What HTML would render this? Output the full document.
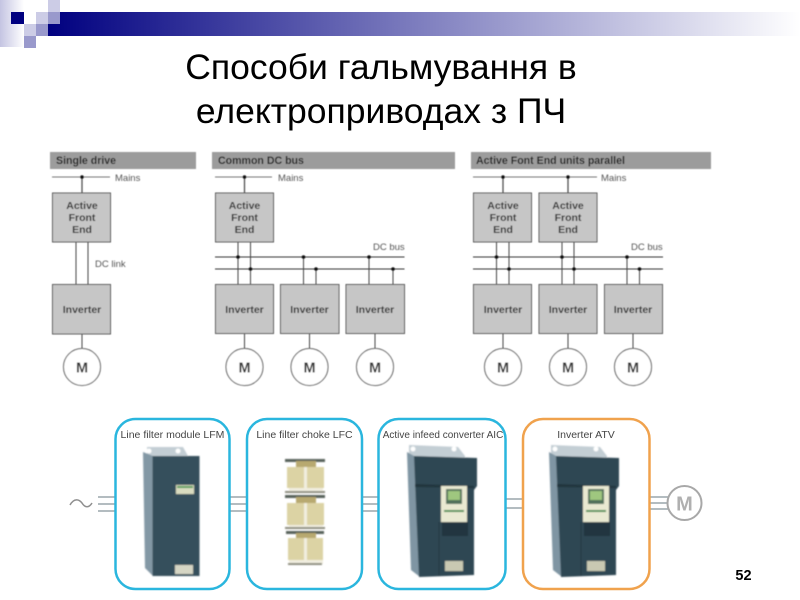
<!DOCTYPE html>
<html><head><meta charset="utf-8"><style>
html,body{margin:0;padding:0;background:#fff;width:800px;height:600px;overflow:hidden}
svg{display:block}
text{font-family:"Liberation Sans",sans-serif}
</style></head><body>
<svg width="800" height="600" viewBox="0 0 800 600">
<defs>
<linearGradient id="bar" x1="0" x2="1" y1="0" y2="0"><stop offset="0" stop-color="#000080"/><stop offset="1" stop-color="#fff"/></linearGradient>
<linearGradient id="left" x1="0" x2="1" y1="0" y2="0"><stop offset="0" stop-color="#c4c4e2"/><stop offset="1" stop-color="#fff"/></linearGradient>
<filter id="b1" x="-5%" y="-5%" width="110%" height="110%"><feGaussianBlur stdDeviation="0.55"/></filter>
<filter id="b2" x="-5%" y="-5%" width="110%" height="110%"><feGaussianBlur stdDeviation="0.7"/></filter>
<filter id="b0" x="-5%" y="-5%" width="110%" height="110%"><feGaussianBlur stdDeviation="0.35"/></filter>
<g id="drive">
<polygon points="409,445 458,447 465,456 465,470 409,470" fill="#c3ced4"/>
<circle cx="413" cy="449" r="2.500" fill="#fff"/><circle cx="454" cy="449" r="2.500" fill="#fff"/>
<polygon points="407,452 416,457 420,577 411,570" fill="#7f95a3"/>
<polygon points="414,456 477,458 477,486 474,490 474,575 419,577" fill="#2e4753"/>
<polygon points="415,484 474,486 474,488 415,487" fill="#21343c"/>
<rect x="441" y="486" width="26" height="36" fill="#e9e9d2"/>
<rect x="446" y="489" width="16" height="15" fill="#4f6f5a"/>
<rect x="448" y="491" width="12" height="9" fill="#9fc77f"/>
<rect x="444" y="510" width="20" height="2" fill="#3f8a4a"/>
<rect x="442" y="522" width="26" height="14" fill="#22363f"/>
<line x1="439" y1="522" x2="439" y2="576" stroke="#22363f" stroke-width="1"/>
<rect x="445" y="561" width="18" height="10" fill="#c9c9b2"/>
</g>
</defs>

<!-- template -->
<rect x="0" y="0" width="24" height="47" fill="url(#left)"/>
<rect x="48" y="12" width="752" height="24" fill="url(#bar)"/>
<rect x="11" y="12" width="13" height="12" fill="#000080"/>
<rect x="48" y="0" width="12" height="12" fill="#ccccE6"/>
<rect x="36" y="12" width="12" height="12" fill="#ccccE6"/>
<rect x="48" y="12" width="12" height="12" fill="#9999cc"/>
<rect x="24" y="24" width="12" height="12" fill="#ccccE6"/>
<rect x="36" y="24" width="12" height="12" fill="#9999cc"/>
<rect x="24" y="36" width="12" height="12" fill="#9999cc"/>

<text x="381" y="79" font-size="35.500" text-anchor="middle" fill="#000">Способи гальмування в</text>
<text x="381" y="123" font-size="35.500" text-anchor="middle" fill="#000">електроприводах з ПЧ</text>

<g filter="url(#b1)">
<!-- headers -->
<rect x="50" y="152" width="146" height="17" fill="#9c9c9c"/>
<rect x="212" y="152" width="243" height="17" fill="#9c9c9c"/>
<rect x="471" y="152" width="240" height="17" fill="#9c9c9c"/>
<g font-size="10.600" font-weight="bold" fill="#222">
<text x="56" y="164">Single drive</text>
<text x="218" y="164">Common DC bus</text>
<text x="476" y="164">Active Font End units parallel</text>
</g>

<!-- wires -->
<g stroke="#444" stroke-width="1" fill="none">
<path d="M52 177H110M215 177H272M473 177H597" stroke="#777"/>
<path d="M82 177V193M244.500 177V193M503 177V193M568 177V193" stroke-width="1.200"/>
<path d="M76 242V284M88 242V284"/>
<path d="M82 334V349M244.500 334V349M309.500 334V349M375 334V349M503 334V349M568 334V349M633 334V349"/>
<path d="M215 257H404.500M215 269H404.500M473 257H663M473 269H663" stroke="#333"/>
<path d="M238 242V284M250.500 242V284M303.500 257V284M316 269V284M369 257V284M393 269V284"/>
<path d="M496.500 242V284M509 242V284M562 242V284M574 242V284M627 257V284M639.500 269V284"/>
</g>
<g fill="#111">
<circle cx="82" cy="177" r="1.800"/><circle cx="244.500" cy="177" r="1.800"/><circle cx="503" cy="177" r="1.800"/><circle cx="568" cy="177" r="1.800"/>
<circle cx="238" cy="257" r="1.800"/><circle cx="250.500" cy="269" r="1.800"/><circle cx="303.500" cy="257" r="1.800"/><circle cx="316" cy="269" r="1.800"/><circle cx="369" cy="257" r="1.800"/><circle cx="393" cy="269" r="1.800"/>
<circle cx="496.500" cy="257" r="1.800"/><circle cx="509" cy="269" r="1.800"/><circle cx="562" cy="257" r="1.800"/><circle cx="574" cy="269" r="1.800"/><circle cx="627" cy="257" r="1.800"/><circle cx="639.500" cy="269" r="1.800"/>
</g>

<!-- boxes -->
<g fill="#c6c6c6" stroke="#555" stroke-width="1">
<rect x="52.500" y="193" width="58" height="49"/>
<rect x="215.500" y="193" width="58" height="49"/>
<rect x="473.500" y="193" width="58" height="49"/>
<rect x="539" y="193" width="58" height="49"/>
<rect x="52.500" y="284.500" width="58" height="49.500"/>
<rect x="215.500" y="284.500" width="58" height="49"/>
<rect x="280.500" y="284.500" width="58.500" height="49"/>
<rect x="346" y="284.500" width="58.500" height="49"/>
<rect x="473.500" y="284.500" width="58" height="49"/>
<rect x="539" y="284.500" width="58" height="49"/>
<rect x="604.500" y="284.500" width="58" height="49"/>
</g>
<g font-size="10.500" font-weight="bold" fill="#333" text-anchor="middle">
<text x="82" y="209">Active</text><text x="82" y="221">Front</text><text x="82" y="233">End</text>
<text x="244.500" y="209">Active</text><text x="244.500" y="221">Front</text><text x="244.500" y="233">End</text>
<text x="503" y="209">Active</text><text x="503" y="221">Front</text><text x="503" y="233">End</text>
<text x="568" y="209">Active</text><text x="568" y="221">Front</text><text x="568" y="233">End</text>
<text x="82" y="313">Inverter</text><text x="244.500" y="313">Inverter</text><text x="309.500" y="313">Inverter</text><text x="375" y="313">Inverter</text>
<text x="503" y="313">Inverter</text><text x="568" y="313">Inverter</text><text x="633" y="313">Inverter</text>
</g>
<g font-size="9.500" fill="#555">
<text x="115" y="181">Mains</text><text x="278" y="181">Mains</text><text x="601" y="181">Mains</text>
<text x="95" y="267">DC link</text>
<text x="373" y="250">DC bus</text><text x="631" y="250">DC bus</text>
</g>
<g fill="#fff" stroke="#555" stroke-width="1">
<circle cx="82" cy="367" r="18.500"/><circle cx="244.500" cy="367" r="18.500"/><circle cx="309.500" cy="367" r="18.500"/><circle cx="375" cy="367" r="18.500"/>
<circle cx="503" cy="367" r="18.500"/><circle cx="568" cy="367" r="18.500"/><circle cx="633" cy="367" r="18.500"/>
</g>
<g font-size="14.500" font-weight="bold" fill="#333" text-anchor="middle">
<text x="82" y="372.500">M</text><text x="244.500" y="372.500">M</text><text x="309.500" y="372.500">M</text><text x="375" y="372.500">M</text>
<text x="503" y="372.500">M</text><text x="568" y="372.500">M</text><text x="633" y="372.500">M</text>
</g>
</g>

<!-- bottom -->
<g filter="url(#b0)">
<g stroke="#9aa6ab" stroke-width="1.500" fill="none">
<path d="M98 497H115M98 504H115M98 511H115"/>
<path d="M230 497H247M230 504H247M230 511H247"/>
<path d="M362 497H378M362 504H378M362 511H378"/>
<path d="M506 499H523M506 508H523"/>
<path d="M650 497H668M650 503H668M650 509H668"/>
<path d="M70 505C74 498 79 499 82 503C85 508 89 508 92 503" stroke="#8f8f8f"/>
</g>
<g fill="#fff" stroke-width="2.500">
<rect x="115.500" y="419" width="114" height="170" rx="20" stroke="#2cb6de"/>
<rect x="247" y="419" width="115" height="170" rx="20" stroke="#2cb6de"/>
<rect x="378.500" y="419" width="127" height="170" rx="20" stroke="#2cb6de"/>
<rect x="523" y="419" width="126.500" height="170" rx="20" stroke="#f0a24e"/>
</g>
<circle cx="684.500" cy="503" r="17" fill="#fff" stroke="#a8a8a8" stroke-width="2"/>
<text x="684.500" y="510.500" font-size="20" font-weight="bold" fill="#b0b0b0" text-anchor="middle">M</text>
<g font-size="10.500" fill="#444" text-anchor="middle">
<text x="172.500" y="438">Line filter module LFM</text>
<text x="304.500" y="438">Line filter choke LFC</text>
<text x="443" y="438" font-size="10">Active infeed converter AIC</text>
<text x="586" y="438">Inverter ATV</text>
</g>
<text x="743.500" y="580" font-size="14.500" font-weight="bold" fill="#000" text-anchor="middle">52</text>
</g>

<!-- devices -->
<g filter="url(#b2)">
<polygon points="147,447 183,447 188,456 188,460 147,460" fill="#c3ced4"/>
<circle cx="149" cy="451" r="2.500" fill="#fff"/><circle cx="178" cy="451" r="2.500" fill="#fff"/>
<polygon points="143,452 153,456 153,576 145,568" fill="#8398a5"/>
<rect x="152.500" y="456" width="47" height="120" fill="#34505c"/>
<rect x="176" y="485" width="18" height="9" fill="#d9dcc0"/>
<rect x="177" y="486" width="16" height="2" fill="#4f9a55"/>
<rect x="175" y="565" width="18" height="9" fill="#d6d6c4"/>
<use href="#drive"/>
<use href="#drive" x="142"/>
<!-- choke -->
<g fill="#dcd3a4">
<rect x="287" y="467" width="17" height="21"/><rect x="307" y="467" width="17" height="21"/>
<rect x="287" y="503" width="17" height="22"/><rect x="307" y="503" width="17" height="22"/>
<rect x="288" y="538" width="16" height="22"/><rect x="307" y="538" width="16" height="22"/>
</g>
<g fill="#f1eee0">
<rect x="304" y="465" width="3" height="25"/><rect x="304" y="501" width="3" height="26"/><rect x="304" y="536" width="3" height="26"/>
<rect x="289" y="488" width="34" height="4"/><rect x="289" y="525" width="34" height="3"/><rect x="289" y="560" width="34" height="4"/>
</g>
<g fill="#56605a">
<rect x="285" y="459" width="40" height="3"/><rect x="285" y="495" width="40" height="3"/><rect x="286" y="531" width="38" height="3"/>
</g>
<g fill="#b8a96f">
<rect x="296" y="461" width="20" height="6"/><rect x="296" y="497" width="20" height="6"/><rect x="296" y="533" width="20" height="5"/>
</g>
<g fill="#8a8a7c">
<rect x="285" y="491" width="40" height="2"/><rect x="285" y="527" width="40" height="2"/><rect x="288" y="563" width="34" height="2"/>
</g>
</g>
</svg>
</body></html>
